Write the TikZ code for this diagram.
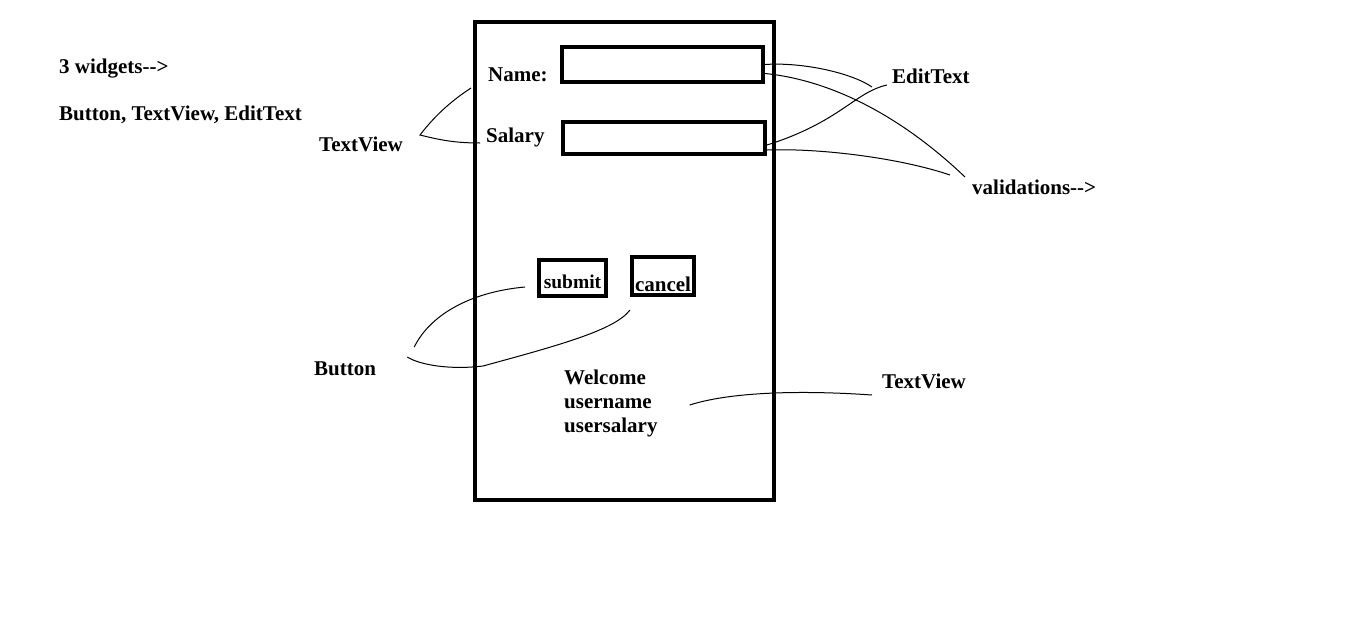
\documentclass[tikz,border=0pt]{standalone}
\usepackage{fontspec}
\setmainfont{Liberation Serif}[Ligatures=TeXOff]
\usetikzlibrary{calc}

\tikzstyle{mytext} = [font=\fontsize{21}{24}\selectfont\bfseries,
    inner sep=0pt, anchor=west]
\tikzstyle{mybox} = [draw=black, line width=4pt, rectangle, inner sep=0pt]
\tikzstyle{myline} = [draw=black, line width=1pt]

\begin{document}
\begin{tikzpicture}[x=1pt, y=-1pt]
\useasboundingbox (0,0) rectangle (1360,624);
%------------ Phone screen ---------------------
\node [mybox, minimum width=299pt, minimum height=478pt] (phone) at (624.5,261) {};
\node [mybox, minimum width=201pt, minimum height=35pt] (namebox) at (662.5,64.5) {};
\node [mybox, minimum width=202pt, minimum height=32pt] (salbox) at (664,138) {};
\node [mybox, mytext, font=\fontsize{19.5}{24}\selectfont\bfseries, anchor=center,
    minimum width=67pt, minimum height=36pt,
    text height=21pt, text depth=0pt] (submit) at (572.5,278) {submit};
\node [mybox, mytext, anchor=center, minimum width=62pt, minimum height=38pt,
    text height=30pt, text depth=0pt] (cancel) at (663,276) {cancel};
\node [mytext] (namelbl) at (488,75) {Name:};
\node [mytext] (sallbl) at (486,137) {Salary};
\node [mytext, align=left] (welcome) at (564,403) {Welcome\\username\\usersalary};
%------------ Labels ---------------------
\node [mytext] (widgets) at (59,69) {3 widgets-->};
\node [mytext] (widgetlist) at (59,115) {Button, TextView, EditText};
\node [mytext] (tvleft) at (319,144) {TextView};
\node [mytext] (edittext) at (892,76) {EditText};
\node [mytext] (valid) at (972,187) {validations-->};
\node [mytext] (button) at (314,369) {Button};
\node [mytext] (tvright) at (882,381) {TextView};
%------------ Connectors ---------------------
\coordinate (tvtip) at ($(tvleft.east)+(17,-9)$);
\draw [myline] ($(namelbl.west)+(-17,13)$) .. controls (445,105) and (430,122) .. (tvtip)
    .. controls (440,140) and (455,143) .. ($(sallbl.west)+(-6,6)$);
\draw [myline] (namebox.east) .. controls (800,62) and (850,72) .. ($(edittext.west)+(-20,11)$);
\draw [myline] ($(namebox.east)+(0,9)$) .. controls (830,80) and (900,115) .. ($(valid.west)+(-7,-10)$);
\draw [myline] ($(edittext.west)+(-5,9)$) .. controls (855,92) and (840,122) .. ($(salbox.east)+(0,7)$);
\draw [myline] ($(salbox.east)+(0,12)$) .. controls (820,148) and (900,158) .. ($(valid.west)+(-22,-12)$);
\draw [myline] ($(submit.west)+(-12,9)$) .. controls (470,292) and (430,315) .. ($(button.east)+(38,-22)$);
\draw [myline] ($(cancel.south west)+(0,13)$) .. controls (615,330) and (560,345) .. (483,366)
    .. controls (450,370) and (420,365) .. ($(button.east)+(31,-12)$);
\draw [myline] ($(welcome.east)+(32,2)$) .. controls (730,392) and (800,390) .. ($(tvright.west)+(-10,14)$);
\end{tikzpicture}
\end{document}
